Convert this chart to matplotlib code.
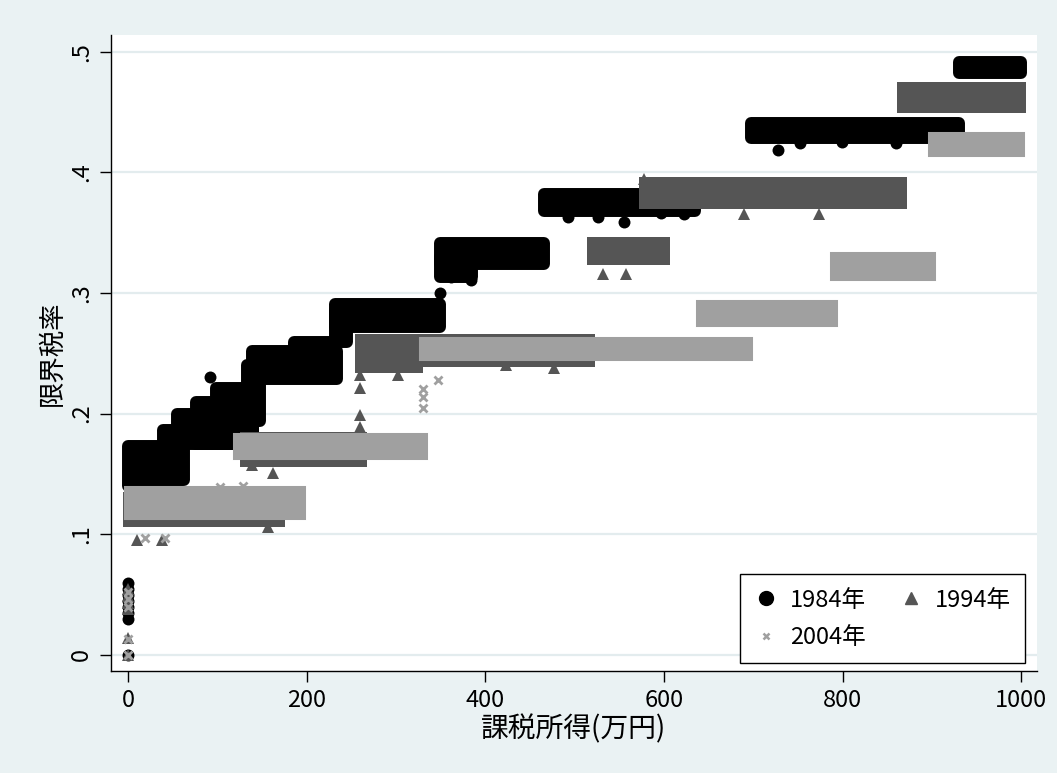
import matplotlib.pyplot as plt
from matplotlib.patches import Rectangle
from matplotlib.lines import Line2D

plt.rcParams['font.family'] = ['Noto Sans CJK JP', 'DejaVu Sans']

BG = '#eaf2f3'
GRID = '#e3ecee'
C84 = '#000000'
C94 = '#555555'
C04 = '#a0a0a0'

# bracket blocks: income range (万円) and spread of marginal rates
inc_lo_84 = [0, 39, 55, 76, 98, 133, 138, 186, 231, 231, 349, 349, 465, 697, 930]
inc_hi_84 = [55, 62, 140, 140, 133, 148, 234, 227, 349, 245, 465, 385, 635, 930, 1000]
rate_lo_84 = [0.140, 0.145, 0.175, 0.175, 0.190, 0.194, 0.229, 0.235, 0.272, 0.259,
              0.324, 0.313, 0.368, 0.428, 0.482]
rate_hi_84 = [0.173, 0.186, 0.200, 0.210, 0.221, 0.240, 0.252, 0.259, 0.291, 0.285,
              0.341, 0.330, 0.382, 0.441, 0.491]

inc_lo_94 = [0, 131, 260, 260, 519, 578, 866]
inc_hi_94 = [170, 262, 325, 517, 601, 866, 1000]
rate_lo_94 = [0.110, 0.160, 0.238, 0.243, 0.327, 0.374, 0.453]
rate_hi_94 = [0.131, 0.181, 0.262, 0.262, 0.342, 0.392, 0.471]

inc_lo_04 = [0, 122, 330, 640, 790, 900]
inc_hi_04 = [195, 331, 695, 790, 900, 1000]
rate_lo_04 = [0.115, 0.165, 0.247, 0.275, 0.313, 0.416]
rate_hi_04 = [0.137, 0.181, 0.260, 0.291, 0.331, 0.430]

# isolated observations
pt_inc_84 = [0, 0, 0, 0, 0, 0, 0, 0, 92, 349, 361, 384, 492, 526, 555, 597, 622,
             728, 752, 799, 860]
pt_rate_84 = [0.0, 0.030, 0.035, 0.040, 0.045, 0.050, 0.055, 0.060, 0.230, 0.300,
              0.313, 0.311, 0.363, 0.363, 0.359, 0.366, 0.365, 0.4185, 0.424,
              0.425, 0.424]

pt_inc_94 = [0, 0, 0, 0, 0, 0, 10, 38, 156, 138, 162, 260, 260, 260, 260, 302,
             423, 477, 532, 557, 578, 689, 773]
pt_rate_94 = [0.0, 0.014, 0.038, 0.043, 0.049, 0.055, 0.095, 0.095, 0.106, 0.157,
              0.151, 0.189, 0.199, 0.221, 0.232, 0.232, 0.240, 0.238, 0.316, 0.316,
              0.394, 0.365, 0.365]

pt_inc_04 = [0, 0, 0, 0, 0, 19, 41, 103, 129, 330, 330, 330, 347]
pt_rate_04 = [0.0, 0.013, 0.040, 0.046, 0.052, 0.097, 0.097, 0.139, 0.140,
              0.220, 0.214, 0.205, 0.228]

years = ['1984年', '1994年', '2004年']
xticks = [0, 200, 400, 600, 800, 1000]
yticks = [0, 0.1, 0.2, 0.3, 0.4, 0.5]
ytick_labels = ['0', '.1', '.2', '.3', '.4', '.5']

fig = plt.figure(figsize=(10.57, 7.73), dpi=100, facecolor=BG)
ax = fig.add_axes([0.105, 0.132, 0.876, 0.8228])
ax.set_facecolor('white')


def draw_blocks(lo, hi, rlo, rhi, color, lw, join, z):
    for a, b, c, d in zip(lo, hi, rlo, rhi):
        ax.add_patch(Rectangle((a, c), b - a, d - c, facecolor=color,
                               edgecolor=color, lw=lw, joinstyle=join, zorder=z))


draw_blocks(inc_lo_84, inc_hi_84, rate_lo_84, rate_hi_84, C84, 8.6, 'round', 2)
ax.plot(pt_inc_84, pt_rate_84, 'o', color=C84, ms=8.6, mew=0, zorder=2.1)

draw_blocks(inc_lo_94, inc_hi_94, rate_lo_94, rate_hi_94, C94, 7.2, 'miter', 3)
ax.plot(pt_inc_94, pt_rate_94, '^', color=C94, ms=8, mew=0, zorder=3.1)

draw_blocks(inc_lo_04, inc_hi_04, rate_lo_04, rate_hi_04, C04, 5.8, 'miter', 4)
ax.plot(pt_inc_04, pt_rate_04, 'x', color=C04, ms=6, mew=2, zorder=4.1)

ax.set_xlim(-19.4, 1017.6)
ax.set_ylim(-0.0133, 0.5138)
ax.set_xticks(xticks)
ax.set_yticks(yticks)
ax.set_yticklabels(ytick_labels, rotation=90, va='center')
ax.tick_params(axis='both', length=8, width=1, labelsize=17, pad=5)
ax.grid(axis='y', color=GRID, lw=1.6)
ax.set_axisbelow(True)
for s in ['top', 'right']:
    ax.spines[s].set_visible(False)
for s in ['left', 'bottom']:
    ax.spines[s].set_linewidth(1)

ax.set_xlabel('課税所得(万円)', fontsize=20, labelpad=2)
ax.set_ylabel('限界税率', fontsize=19, labelpad=3)

handles = [
    Line2D([], [], marker='o', color=C84, ls='none', ms=10),
    Line2D([], [], marker='x', color=C04, ls='none', ms=5, mew=1.8),
    Line2D([], [], marker='^', color=C94, ls='none', ms=8),
]
leg = ax.legend(handles, [years[0], years[2], years[1]], ncol=2,
                loc='lower right', bbox_to_anchor=(0.987, 0.0126),
                borderaxespad=0, fontsize=17, frameon=True, fancybox=False,
                framealpha=1, edgecolor='black', handlelength=1.0,
                handletextpad=0.5, columnspacing=1.4, borderpad=0.6,
                labelspacing=0.6)
leg.get_frame().set_linewidth(1)

fig.savefig('out.png', dpi=100, facecolor=BG)
